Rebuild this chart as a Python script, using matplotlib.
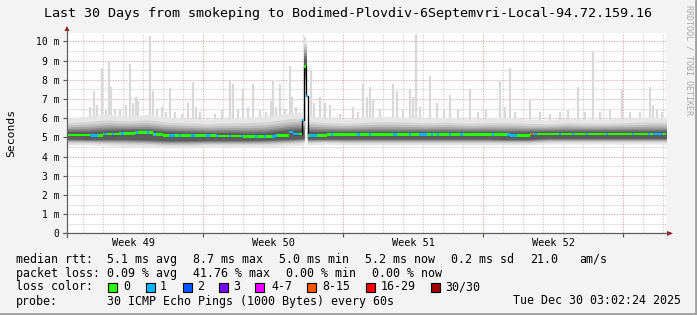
import numpy as np
import matplotlib.pyplot as plt
from matplotlib.lines import Line2D
from matplotlib.patches import Rectangle, Polygon

W, H = 697, 315
MONO = 'DejaVu Sans Mono'

# ---- data (x in days since start of window, y in ms) ----
title = 'Last 30 Days from smokeping to Bodimed-Plovdiv-6Septemvri-Local-94.72.159.16'

week_lines = [6.8, 13.8, 20.8, 27.8]
week_labels = ['Week 49', 'Week 50', 'Week 51', 'Week 52']
week_label_pos = [3.3, 10.3, 17.3, 24.3]

# median rtt (step breakpoints)
med_day = [0, 1.2, 1.8, 2.6, 3.4, 4.3, 4.8, 6.0, 7.5, 8.8, 10.4, 11.1, 11.3,
           11.75, 11.85, 11.95, 12.05, 13.0, 22.15, 23.15]
med_ms = [5.12, 5.08, 5.18, 5.21, 5.24, 5.15, 5.09, 5.08, 5.07, 5.04, 5.10, 5.28, 5.18,
          5.9, 8.7, 7.15, 5.10, 5.15, 5.08, 5.17]

# packet loss (code index into legend) intervals, everything else is 0
loss_start = [1.15, 1.85, 2.25, 2.7, 3.45, 4.0, 4.35, 5.1, 5.6, 6.2, 6.95, 7.45, 8.1,
              8.7, 9.4, 9.85, 10.25, 11.1, 11.75, 11.95, 12.1, 13.2, 14.5, 15.1, 16.3,
              17.1, 17.6, 18.2, 18.5, 19.1, 19.65, 21.25, 22.0, 23.2, 23.3, 24.6, 25.25,
              25.95, 26.95, 28.25, 29.05, 29.3]
loss_end = [1.55, 2.0, 2.35, 2.85, 3.55, 4.1, 4.45, 5.4, 5.7, 6.4, 7.15, 7.55, 8.2,
            8.8, 9.5, 9.95, 10.5, 11.6, 11.85, 12.05, 12.5, 13.3, 14.65, 15.2, 16.5,
            17.2, 18.0, 18.3, 18.6, 19.2, 19.8, 21.35, 22.5, 23.3, 23.5, 24.7, 25.35,
            26.05, 27.05, 28.35, 29.15, 29.8]
loss_code = [1] * 33 + [5] + [1] * 8

# smoke envelope
smoke_day = [0, 1, 2, 3, 4, 5, 6, 7, 8, 9, 10, 11, 11.85, 12.02, 13, 14, 15, 16, 17, 18,
             19, 20, 21, 22, 23, 24, 25, 26, 27, 28, 29, 30]
outer_hi = [6.0, 6.1, 6.2, 6.1, 6.2, 6.05, 6.0, 5.95, 6.0, 6.05, 6.1, 6.25, 6.35, 6.15,
            6.0, 5.95, 6.05, 6.1, 6.05, 6.0, 6.05, 5.95, 6.0, 6.05, 5.95, 5.9, 6.0, 5.95,
            5.95, 6.0, 6.05, 6.05]
outer_lo = [4.6, 4.6, 4.55, 4.5, 4.5, 4.45, 4.45, 4.5, 4.5, 4.5, 4.5, 4.55, 4.6, 4.6,
            4.65, 4.6, 4.6, 4.6, 4.6, 4.6, 4.6, 4.6, 4.6, 4.6, 4.6, 4.65, 4.65, 4.65,
            4.65, 4.65, 4.65, 4.65]
core_hi = [5.3, 5.3, 5.36, 5.38, 5.38, 5.3, 5.27, 5.25, 5.25, 5.22, 5.25, 5.38, 5.42, 5.3,
           5.3, 5.3, 5.3, 5.3, 5.3, 5.3, 5.3, 5.3, 5.3, 5.28, 5.3, 5.32, 5.32,
           5.32, 5.32, 5.32, 5.32, 5.32]
core_lo = [4.92, 4.9, 4.9, 4.9, 4.87, 4.83, 4.83, 4.85, 4.85, 4.85, 4.87, 4.9, 4.95, 4.92,
           4.92, 4.92, 4.92, 4.92, 4.92, 4.92, 4.92, 4.92, 4.92, 4.9, 4.9, 4.95, 4.95,
           4.95, 4.95, 4.95, 4.95, 4.95]

# smoke at the big spike
spike_band_day = [11.85, 12.0]
spike_band_outer = [(7.6, 10.0), (7.6, 10.0)]
spike_band_core = [(8.3, 9.1), (8.3, 9.1)]

# individual high pings (light grey spikes)
spike_day = [1.15, 1.35, 1.5, 1.75, 1.95, 2.1, 2.2, 2.4, 2.65, 2.95, 3.15, 3.3, 3.45, 3.55,
             4.15, 4.3, 4.5, 4.75, 4.95, 5.15, 5.4, 5.75, 6.05, 6.3, 6.45, 6.65, 7.0, 7.4,
             7.75, 8.15, 8.3, 8.55, 8.8, 9.05, 9.3, 9.65, 9.95, 10.2, 10.3, 10.45, 10.65,
             10.9, 11.15, 11.25, 11.45, 11.9, 12.2, 12.35, 12.65, 12.9, 13.15, 13.65, 14.3,
             14.55, 14.8, 15.0, 15.15, 15.3, 15.65, 16.3, 16.5, 16.8, 17.15, 17.3, 17.45,
             17.65, 18.15, 18.5, 18.85, 19.15, 19.55, 20.15, 20.55, 20.95, 21.65, 21.9,
             22.15, 22.4, 23.15, 23.65, 24.15, 24.65, 25.05, 25.55, 25.9, 26.3, 26.65,
             27.15, 27.75, 28.15, 28.65, 29.15, 29.3, 29.5, 29.75]
spike_ms = [6.6, 7.4, 6.7, 8.6, 6.4, 8.9, 7.6, 6.5, 6.4, 6.7, 8.8, 6.8, 7.1, 6.9,
            10.3, 7.4, 6.5, 6.6, 6.3, 7.55, 6.3, 6.2, 6.8, 7.9, 6.6, 6.3, 6.0, 6.2,
            6.4, 8.0, 7.8, 6.5, 7.5, 6.6, 7.8, 6.4, 6.3, 6.9, 8.0, 6.6, 7.8,
            6.5, 8.7, 7.1, 6.6, 10.2, 8.5, 6.8, 7.1, 6.8, 6.7, 6.2, 6.6,
            6.3, 7.8, 7.1, 7.6, 7.0, 6.5, 7.8, 7.4, 6.4, 7.5, 7.1, 10.4,
            6.6, 8.2, 6.8, 6.4, 7.2, 6.5, 7.5, 6.3, 6.4, 8.0, 6.6,
            8.6, 6.3, 7.0, 6.3, 6.2, 6.3, 6.4, 7.6, 6.3, 9.5, 6.3,
            6.4, 7.5, 6.3, 6.3, 7.6, 6.7, 6.5, 6.3]

loss_labels = ['0', '1', '2', '3', '4-7', '8-15', '16-29', '30/30']
loss_colors = ['#26ff00', '#00b8ff', '#0059ff', '#7e00ff', '#ee00ff', '#ff5500',
               '#ff0000', '#a00000']

stats_rtt = ['5.1 ms avg', '8.7 ms max', '5.0 ms min', '5.2 ms now', '0.2 ms sd', '21.0', 'am/s']
stats_loss = ['0.09 % avg', '41.76 % max', '0.00 % min', '0.00 % now']
probe_text = '30 ICMP Echo Pings (1000 Bytes) every 60s'
stamp = 'Tue Dec 30 03:02:24 2025'


def fx(x):
    return x / W


def fy(y):
    return 1 - y / H


fig = plt.figure(figsize=(W / 100, H / 100), dpi=100, facecolor='#f3f3f3')
ax = fig.add_axes([fx(67), fy(233.3), (666 - 67) / W, (233.3 - 32.5) / H])
ax.set_facecolor('white')
ax.set_xlim(0, 29.95)
ax.set_ylim(0, 10.46)
for s in ax.spines.values():
    s.set_visible(False)

# grid
ax.set_xticks(week_lines)
ax.set_xticks([0.8 + k for k in range(30) if (0.8 + k) not in week_lines], minor=True)
ax.set_yticks(range(11))
ax.set_yticks([k + 0.5 for k in range(10)], minor=True)
ax.set_yticklabels(['0'] + ['%d m' % k for k in range(1, 11)], family=MONO, fontsize=7)
ax.tick_params(axis='x', which='major', length=3, color='#555555', labelbottom=False)
ax.tick_params(axis='x', which='minor', length=0)
ax.tick_params(axis='y', which='major', length=3, color='#555555', pad=2.5)
ax.tick_params(axis='y', which='minor', length=0)
ax.grid(which='major', color='#e09c9c', ls=(0, (1, 1.4)), lw=0.8)
ax.grid(which='minor', color='#c4c4c4', ls=(0, (1, 1.4)), lw=0.8)
ax.set_axisbelow(True)

for x, lab in zip(week_label_pos, week_labels):
    ax.text(x, -0.5, lab, ha='center', va='center', family=MONO, fontsize=7.4, clip_on=False)

# spikes
ax.vlines(spike_day, 5.5, spike_ms, colors='#d9d9d9', lw=1.6, zorder=2)

# smoke layers
shades = ['#e6e6e6', '#d4d4d4', '#bebebe', '#a6a6a6', '#8c8c8c', '#727272', '#5c5c5c']
d = np.array(smoke_day)
oh, ol = np.array(outer_hi), np.array(outer_lo)
ch, cl = np.array(core_hi), np.array(core_lo)
for seg in (d <= 11.85, d >= 12.02):
    for i, c in enumerate(shades):
        t = (i / (len(shades) - 1)) ** 0.6
        top = oh + (ch - oh) * t
        bot = ol + (cl - ol) * t
        ax.fill_between(d[seg], bot[seg], top[seg], color=c, lw=0, zorder=3)

sb_o = np.array(spike_band_outer)
sb_c = np.array(spike_band_core)
for i, c in enumerate(shades):
    t = i / (len(shades) - 1)
    lo = sb_o[:, 0] + (sb_c[:, 0] - sb_o[:, 0]) * t
    hi = sb_o[:, 1] + (sb_c[:, 1] - sb_o[:, 1]) * t
    ax.fill_between(spike_band_day, lo, hi, color=c, lw=0, zorder=3)

# median line: black connector around the spike, then loss-coloured segments
md = np.array(med_day + [29.95])
mv = np.array(med_ms + [med_ms[-1]])
near = (md >= 11.3) & (md <= 12.05)
ax.step(md[near], mv[near], where='post', color='black', lw=0.9, zorder=5)
edges = sorted(set(med_day) | set(loss_start) | set(loss_end) | {29.95})
for a, b in zip(edges[:-1], edges[1:]):
    v = med_ms[int(np.searchsorted(med_day, a, side='right')) - 1]
    code = 0
    for s, e, c in zip(loss_start, loss_end, loss_code):
        if s <= a < e:
            code = c
    ax.bar(a, 0.14, width=b - a, bottom=v - 0.07, align='edge', color=loss_colors[code],
           lw=0, antialiased=False, zorder=6)

# axes with arrows
fig.add_artist(Line2D([fx(67), fx(67)], [fy(237), fy(30)], color='#606060', lw=0.9))
fig.add_artist(Line2D([fx(63), fx(668)], [fy(233.3), fy(233.3)], color='#606060', lw=0.9))
fig.add_artist(Polygon([(fx(64.5), fy(31)), (fx(69.5), fy(31)), (fx(67), fy(26))],
                       closed=True, color='#a01010', lw=0))
fig.add_artist(Polygon([(fx(667), fy(231)), (fx(667), fy(236)), (fx(673), fy(233.3))],
                       closed=True, color='#a01010', lw=0))

# texts
fig.text(0.5, fy(14), title, ha='center', va='center', family=MONO, fontsize=9.6)
fig.text(fx(11), fy(133), 'Seconds', rotation=90, ha='center', va='center',
         family=MONO, fontsize=8.2)
fig.text(fx(689), fy(60), 'RRDTOOL / TOBI OETIKER', rotation=270, ha='center', va='center',
         family=MONO, fontsize=6, color='#a8a8a8')

fs = 8.4
fig.text(fx(16), fy(259.3), 'median rtt:', va='center', family=MONO, fontsize=fs)
for x, s in zip([107, 193, 279, 365, 451, 530, 579], stats_rtt):
    fig.text(fx(x), fy(259.3), s, va='center', family=MONO, fontsize=fs)
fig.text(fx(16), fy(273.3), 'packet loss:', va='center', family=MONO, fontsize=fs)
for x, s in zip([107, 193, 286, 372], stats_loss):
    fig.text(fx(x), fy(273.3), s, va='center', family=MONO, fontsize=fs)
fig.text(fx(16), fy(286.7), 'loss color:', va='center', family=MONO, fontsize=fs)
box_x = [108, 146, 183, 219, 255, 307, 366, 431]
lab_x = [123, 160, 197, 233, 271, 322, 381, 445]
for bx, lx, lab, c in zip(box_x, lab_x, loss_labels, loss_colors):
    fig.add_artist(Rectangle((fx(bx), fy(291.5)), 8.5 / W, 8.5 / H, facecolor=c,
                             edgecolor='black', lw=0.8))
    fig.text(fx(lx), fy(286.7), lab, va='center', family=MONO, fontsize=fs)
fig.text(fx(16), fy(301), 'probe:', va='center', family=MONO, fontsize=fs)
fig.text(fx(107), fy(301), probe_text, va='center', family=MONO, fontsize=fs)
fig.text(fx(513), fy(301), stamp, va='center', family=MONO, fontsize=fs)

# frame
fig.add_artist(Line2D([0, 1], [fy(313.5), fy(313.5)], color='#a0a0a0', lw=2))
fig.add_artist(Line2D([fx(695.5), fx(695.5)], [0, 1], color='#a0a0a0', lw=2))

fig.savefig('out.png', dpi=100, facecolor=fig.get_facecolor())
